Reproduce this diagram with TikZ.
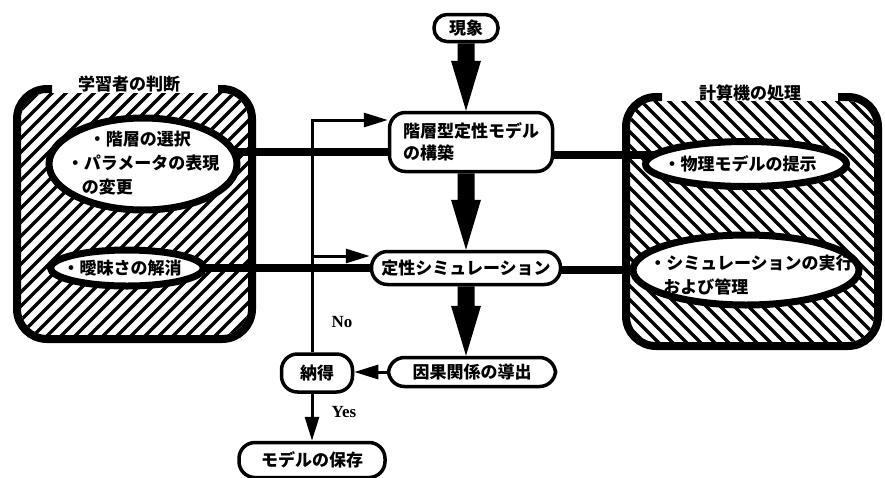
\documentclass[tikz,border=0pt]{standalone}
\usepackage{fontspec}
\setmainfont{Noto Sans CJK JP}
\newfontfamily\rmn{Liberation Serif}
\usetikzlibrary{arrows.meta,backgrounds,shapes.geometric,calc}
\newcommand\fatarrow[2]{%
  \fill let \p1=(#1 -| xz.center), \p2=(#2 -| xz.center) in
    (\x1-8.5pt,\y1) -- (\x1-8.5pt,\y2+50pt) -- (\x1-15pt,\y2+50pt) -- (\x1,\y2)
    -- (\x1+15pt,\y2+50pt) -- (\x1+8.5pt,\y2+50pt) -- (\x1+8.5pt,\y1) -- cycle;}
\tikzset{
  proc/.style={draw, line width=3.5pt, rounded corners=16pt, fill=white, inner sep=0pt},
  ell/.style={ellipse, draw, line width=7pt, fill=white, inner sep=0pt},
  conn/.style={line width=7.5pt},
  thinarr/.style={line width=3pt, -{Triangle[length=24pt,width=14pt]}},
  frame/.style={line width=8pt, rounded corners=30pt},
  hatch/.style={line width=3.2pt},
  multi/.style={align=left, font=\bfseries\fontsize{17}{24}\selectfont},
  lbl/.style={font=\rmn\bfseries\fontsize{17}{20}\selectfont}
}
\begin{document}
\begin{tikzpicture}[x=1pt,y=-1pt,font=\bfseries\fontsize{17}{22}\selectfont]
\useasboundingbox (0,0) rectangle (885,477);

% central flow nodes
\node[proc, minimum width=64pt, minimum height=27pt, rounded corners=13pt] (xz) at (466,28) {現象};
\node[proc, minimum width=163pt, minimum height=59pt, align=left] (n1) at (471,142) {階層型定性モデル\\の構築};
\node[proc, minimum width=189pt, minimum height=33pt] (n2) at (466,268) {定性シミュレーション};
\node[proc, minimum width=167pt, minimum height=29pt] (n3) at (472,372) {因果関係の導出};
\node[proc, minimum width=71pt, minimum height=38pt] (nk) at (317,373) {納得};
\node[proc, minimum width=146pt, minimum height=35pt] (ms) at (312,460) {モデルの保存};

% ellipses
\node[ell, minimum width=188pt, minimum height=92pt] (e1) at (143,164) {};
\node[multi] (e1t) at (143,163) {\hspace{22pt}・階層の選択\\・パラメータの表現\\\hspace{15pt}の変更};
\node[ell, minimum width=153pt, minimum height=36pt] (e2) at (127,268) {};
\node[xshift=-5pt] (e2t) at (e2) {・曖昧さの解消};
\node[ell, minimum width=201pt, minimum height=45pt] (e3) at (746,164) {};
\node[xshift=-6pt] (e3t) at (e3) {・物理モデルの提示};
\node[ell, minimum width=226pt, minimum height=70pt] (e4) at (746,270) {};
\node[multi] (e4t) at (751,275) {・シミュレーションの実行\\\hspace{14pt}および管理};

% titles and labels
\node (t1) at (129,84) {学習者の判断};
\node (t2) at (750,93) {計算機の処理};
\node[lbl] (no) at (342,322) {No};
\node[lbl] (yes) at (344,412) {Yes};

\coordinate (fb1) at (312,120);
\coordinate (fb2) at (312,256);

\begin{scope}[on background layer]
  % left box hatching and frame
  \begin{scope}
    \clip[rounded corners=26pt] (21,93) rectangle (248,335);
    \foreach \a in {-270,-256,...,270} \draw[hatch] (\a,345) -- ++(270,-270);
  \end{scope}
  \draw[frame] (52,89) -- (17,89) -- (17,339) -- (252,339) -- (252,89) -- (218,89);
  % right box hatching and frame
  \begin{scope}
    \clip[rounded corners=26pt] (630,101) rectangle (874,342);
    \foreach \a in {350,364,...,900} \draw[hatch] (\a,90) -- ++(270,270);
  \end{scope}
  \draw[frame] (662,97) -- (626,97) -- (626,346) -- (878,346) -- (878,97) -- (838,97);

  % thick connectors
  \path (n1.center) ++(0,10) coordinate (c1);
  \path (n1.center) ++(0,13) coordinate (c2);
  \draw[conn] (c1) -- (c1 -| e1.center);
  \draw[conn] (c2) -- (c2 -| e3.center);
  \draw[conn] (n2.center) -- (n2.center -| e2.center);
  \path (n2.center) ++(0,2) coordinate (c3);
  \draw[conn] (c3) -- (c3 -| e4.center);

  % fat arrows
  \fatarrow{xz.south}{n1.north}
  \fatarrow{n1.south}{n2.north}
  \fatarrow{n2.south}{n3.north}

  % thin arrows
  \draw[thinarr] (fb1 |- nk.north) -- (fb1) -- (fb1 -| n1.west);
  \draw[thinarr] (fb2) -- (fb2 -| n2.west);
  \draw[thinarr] (n3.west) -- (n3.west -| nk.east);
  \draw[thinarr] (fb1 |- nk.south) -- (fb1 |- ms.north);
\end{scope}
\end{tikzpicture}
\end{document}
